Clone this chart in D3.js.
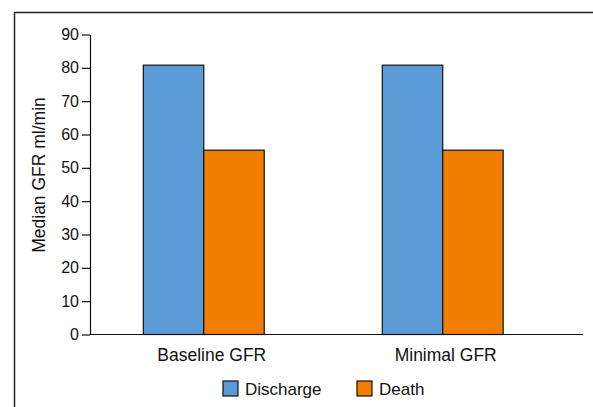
<!DOCTYPE html>
<html>
<head>
<meta charset="utf-8">
<script src="https://cdn.jsdelivr.net/npm/d3@7"></script>
<style>
  html, body { margin: 0; padding: 0; background: #fff; }
  text { font-family: "Liberation Sans", Arial, Helvetica, sans-serif; fill: #111; }
</style>
</head>
<body>
<svg id="chart" width="593" height="407"></svg>
<script>
const categories = ["Baseline GFR", "Minimal GFR"];
const seriesNames = ["Discharge", "Death"];
const discharge = [80.8, 80.8];
const death = [55.3, 55.3];
const yTicks = [0, 10, 20, 30, 40, 50, 60, 70, 80, 90];
const colors = ["#5B9BD5", "#F07F00"];

const svg = d3.select("#chart");

// frame
svg.append("path")
  .attr("d", "M14.5,407 L14.5,12.5 L593,12.5")
  .attr("fill", "none").attr("stroke", "#222").attr("stroke-width", 1.5);

const y = d3.scaleLinear().domain([0, 90]).range([334.5, 34.5]);
const x0 = d3.scaleBand().domain(categories).range([84.3, 562.2]).padding(0);
const x1 = d3.scaleBand().domain(seriesNames)
  .range([x0.bandwidth() * 0.247, x0.bandwidth() * 0.753]).padding(0);

const data = categories.map((c, i) => ({
  cat: c,
  vals: [{s: seriesNames[0], v: discharge[i]}, {s: seriesNames[1], v: death[i]}]
}));

// bars
const g = svg.append("g");
g.selectAll("g.grp").data(data).enter().append("g")
  .attr("transform", d => `translate(${x0(d.cat)},0)`)
  .selectAll("rect").data(d => d.vals).enter().append("rect")
  .attr("x", d => x1(d.s))
  .attr("width", x1.bandwidth())
  .attr("y", d => y(d.v))
  .attr("height", d => y(0) - y(d.v))
  .attr("fill", (d, i) => colors[i])
  .attr("stroke", "#111").attr("stroke-width", 1.2);

// y axis
const yAxis = svg.append("g").attr("transform", "translate(90,0)")
  .call(d3.axisLeft(y).tickValues(yTicks).tickSize(8).tickPadding(3).tickSizeOuter(0));
yAxis.select(".domain").attr("stroke", "#111").attr("stroke-width", 1.2);
yAxis.selectAll(".tick line").attr("stroke", "#111").attr("stroke-width", 1.2);
yAxis.selectAll(".tick text").style("font-size", "16px").attr("fill", "#111")
  .style("font-family", '"Liberation Sans", Arial, sans-serif');

// x axis baseline
svg.append("line").attr("x1", 90).attr("x2", 583)
  .attr("y1", y(0)).attr("y2", y(0))
  .attr("stroke", "#111").attr("stroke-width", 1.2);

// category labels
const labelDx = [8, 3];
svg.selectAll("text.cat").data(categories).enter().append("text")
  .attr("class", "cat")
  .attr("x", (d, i) => x0(d) + x0.bandwidth() / 2 + labelDx[i])
  .attr("y", 361)
  .attr("text-anchor", "middle")
  .style("font-size", "17.5px")
  .text(d => d);

// y label
svg.append("text")
  .attr("transform", "translate(45,175) rotate(-90)")
  .attr("text-anchor", "middle")
  .style("font-size", "17.5px")
  .text("Median GFR ml/min");

// legend
const legendX = [223, 357];
const leg = svg.selectAll("g.leg").data(seriesNames).enter().append("g")
  .attr("transform", (d, i) => `translate(${legendX[i]},381)`);
leg.append("rect").attr("width", 15).attr("height", 15)
  .attr("fill", (d, i) => colors[i]).attr("stroke", "#111").attr("stroke-width", 1.2);
leg.append("text").attr("x", 22).attr("y", 13.5)
  .style("font-size", "17px").text(d => d);
</script>
</body>
</html>
